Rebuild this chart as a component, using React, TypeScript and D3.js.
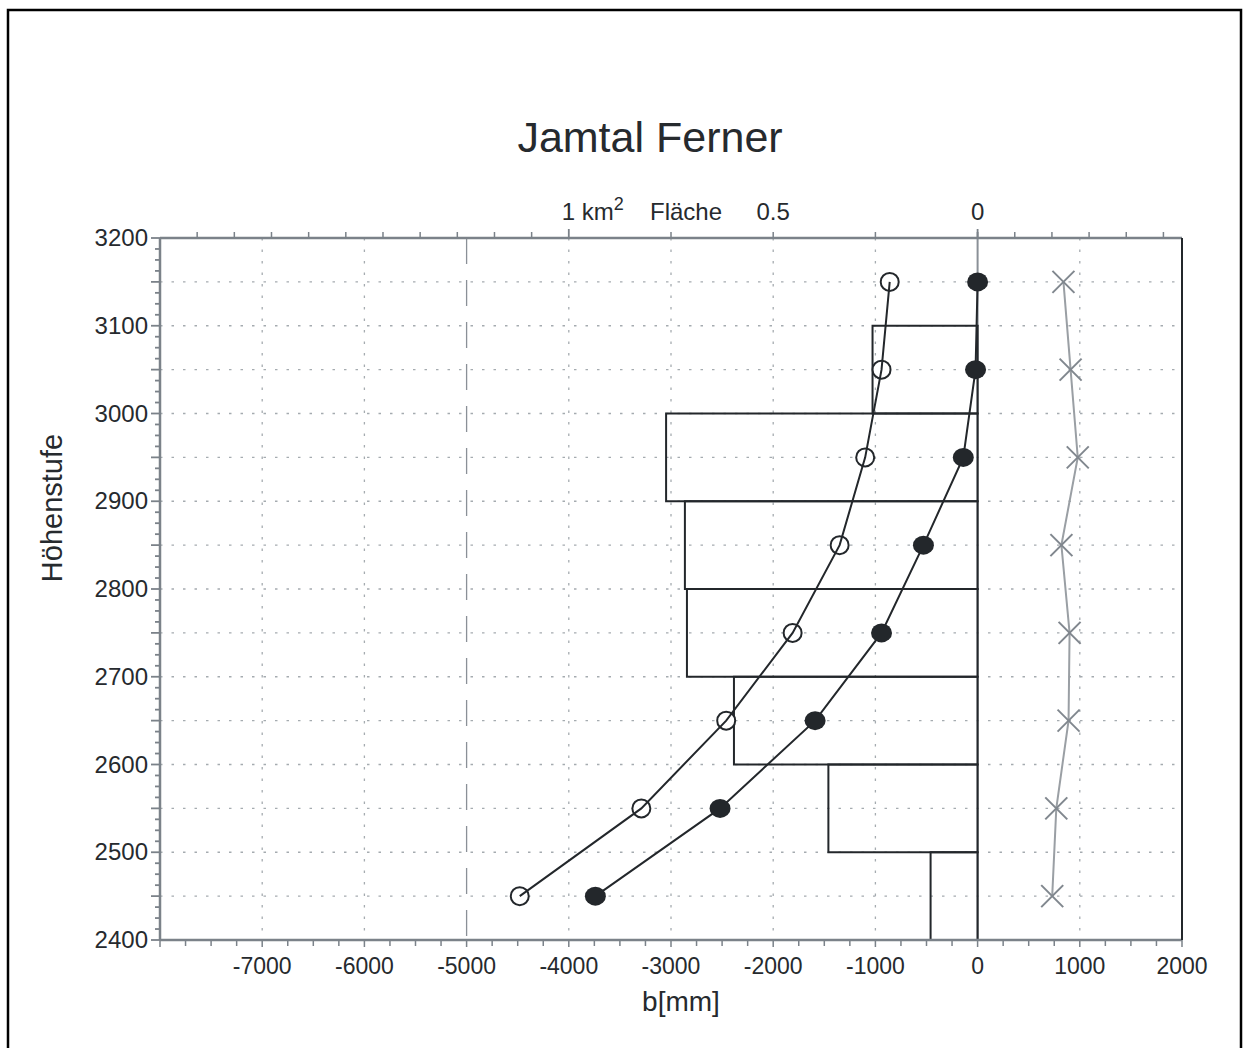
import React from 'react';
import * as d3 from 'd3';

const width = 1244;
const height = 1048;

// Höhenstufen (Mitte der 100 m Stufe) und Massenbilanz b[mm]
const heights = [3150, 3050, 2950, 2850, 2750, 2650, 2550, 2450];
const bOpen = [-860, -940, -1100, -1350, -1810, -2460, -3290, -4480];
const bFilled = [0, -20, -140, -530, -940, -1590, -2520, -3740];
const bCross = [840, 910, 980, 820, 900, 890, 770, 730];

// Fläche je Höhenstufe in km2 (Untergrenze der Stufe)
const bandLower = [3000, 2900, 2800, 2700, 2600, 2500, 2400];
const bandArea = [0.257, 0.762, 0.716, 0.711, 0.596, 0.365, 0.115];

const xTicks = [-7000, -6000, -5000, -4000, -3000, -2000, -1000, 0, 1000, 2000];
const yTicks = [2400, 2500, 2600, 2700, 2800, 2900, 3000, 3100, 3200];
const areaLabels = [{ v: 0.5, t: '0.5' }, { v: 0, t: '0' }];

const left = 160;
const right = 1182;
const top = 238;
const bottom = 940;

const axisCol = '#7b8289';
const textCol = '#262a2e';
const font = 'Liberation Sans, Arial, sans-serif';

const App = () => {
  const x = d3.scaleLinear().domain([-8000, 2000]).range([left, right]);
  const y = d3.scaleLinear().domain([2400, 3200]).range([bottom, top]);
  // 1 km2 Fläche entspricht 4000 mm auf der b-Achse
  const area = d3.scaleLinear().domain([0, 1]).range([x(0), x(-4000)]);

  const line = d3.line<[number, number]>()
    .x(d => x(d[0]))
    .y(d => y(d[1]));

  const openPts = heights.map((h, i) => [bOpen[i], h] as [number, number]);
  const filledPts = heights.map((h, i) => [bFilled[i], h] as [number, number]);
  const crossPts = heights.map((h, i) => [bCross[i], h] as [number, number]);

  const gridY = d3.range(2450, 3200, 50);
  const gridX = xTicks.filter(v => v !== -5000 && v !== 0 && v !== 2000);
  const minorX = d3.range(-8000, 2001, 250);
  const minorY = d3.range(2400, 3200.1, 12.5);
  const topTicks = [
    ...d3.range(1, 11).map(k => 1 + k / 11),
    0.25, 0.5, 0.75,
    ...d3.range(1, 6).map(k => -k / 11),
  ];

  return (
    <svg width={width} height={height} style={{ position: 'absolute', left: 0, top: 0, background: '#fff' }}>
      <rect x={8} y={10} width={1233} height={1100} fill="none" stroke="#000" strokeWidth={2.5} />

      <text x={650} y={152} textAnchor="middle" fontFamily={font} fontSize={43} fill={textCol}>
        Jamtal Ferner
      </text>

      {/* grid */}
      {gridY.map(v => (
        <line key={'gy' + v} x1={left} x2={right} y1={y(v)} y2={y(v)} stroke="#a5abb0" strokeWidth={1.3} strokeDasharray="2.5,9" />
      ))}
      {gridX.map(v => (
        <line key={'gx' + v} x1={x(v)} x2={x(v)} y1={top} y2={bottom} stroke="#a5abb0" strokeWidth={1.3} strokeDasharray="2.5,9" />
      ))}
      <line x1={x(-5000)} x2={x(-5000)} y1={top} y2={bottom} stroke="#8a9097" strokeWidth={1.3} strokeDasharray="26,16" />
      <line x1={x(0)} x2={x(0)} y1={top - 6} y2={bottom} stroke="#8a9097" strokeWidth={2} />

      {/* Flächen je Höhenstufe */}
      {bandLower.map((h, i) => (
        <rect key={'b' + h} x={area(bandArea[i])} y={y(h + 100)} width={x(0) - area(bandArea[i])} height={y(h) - y(h + 100)}
          fill="none" stroke="#23272b" strokeWidth={2} />
      ))}

      {/* axes */}
      <line x1={left} x2={right} y1={bottom} y2={bottom} stroke={axisCol} strokeWidth={2.5} />
      <line x1={left} x2={right} y1={top} y2={top} stroke={axisCol} strokeWidth={2.5} />
      <line x1={left} x2={left} y1={top} y2={bottom} stroke={axisCol} strokeWidth={2.5} />
      <line x1={right} x2={right} y1={top} y2={bottom} stroke="#23272b" strokeWidth={2} />

      {minorX.map(v => (
        <line key={'mx' + v} x1={x(v)} x2={x(v)} y1={bottom} y2={bottom + (v % 1000 === 0 ? 7 : 6)} stroke={axisCol} strokeWidth={1.5} />
      ))}
      {minorY.map(v => (
        <line key={'my' + v} x1={left - (v % 50 === 0 ? 9 : 5)} x2={left} y1={y(v)} y2={y(v)} stroke={axisCol} strokeWidth={1.8} />
      ))}
      {topTicks.map((v, i) => (
        <line key={'tt' + i} x1={area(v)} x2={area(v)} y1={top} y2={top - 6} stroke={axisCol} strokeWidth={1.5} />
      ))}
      <line x1={area(1)} x2={area(1)} y1={top} y2={top - 9} stroke={axisCol} strokeWidth={1.8} />
      <line x1={area(0)} x2={area(0)} y1={top} y2={top - 9} stroke={axisCol} strokeWidth={1.8} />

      {xTicks.map(v => (
        <text key={'xl' + v} x={x(v)} y={bottom + 34} textAnchor="middle" fontFamily={font} fontSize={23} fill={textCol}>
          {v}
        </text>
      ))}
      {yTicks.map(v => (
        <text key={'yl' + v} x={left - 12} y={y(v) + 8} textAnchor="end" fontFamily={font} fontSize={24} fill={textCol}>
          {v}
        </text>
      ))}
      {areaLabels.map(a => (
        <text key={'al' + a.v} x={area(a.v)} y={220} textAnchor="middle" fontFamily={font} fontSize={24} fill={textCol}>
          {a.t}
        </text>
      ))}
      <text x={area(1) - 7} y={220} fontFamily={font} fontSize={24} fill={textCol}>
        1 km<tspan dy={-10} fontSize={18}>2</tspan>
      </text>
      <text x={650} y={220} fontFamily={font} fontSize={24} fill={textCol}>Fläche</text>

      <text x={681} y={1011} textAnchor="middle" fontFamily={font} fontSize={28} fill={textCol}>b[mm]</text>
      <text transform={`translate(62,508) rotate(-90)`} textAnchor="middle" fontFamily={font} fontSize={29} fill={textCol}>
        Höhenstufe
      </text>

      {/* Kreuze */}
      <path d={line(crossPts) ?? ''} fill="none" stroke="#9a9fa4" strokeWidth={2} />
      {crossPts.map((p, i) => {
        const cx = x(p[0]);
        const cy = y(p[1]);
        const s = 11;
        return (
          <g key={'c' + i} stroke="#80878e" strokeWidth={2}>
            <line x1={cx - s} x2={cx + s} y1={cy - s} y2={cy + s} />
            <line x1={cx - s} x2={cx + s} y1={cy + s} y2={cy - s} />
          </g>
        );
      })}

      {/* offene Kreise */}
      {openPts.map((p, i) => (
        <circle key={'o' + i} cx={x(p[0])} cy={y(p[1])} r={9} fill="#fff" stroke="#23272b" strokeWidth={2} />
      ))}
      <path d={line(openPts) ?? ''} fill="none" stroke="#23272b" strokeWidth={2} />

      {/* volle Kreise */}
      <path d={line(filledPts) ?? ''} fill="none" stroke="#23272b" strokeWidth={2} />
      {filledPts.map((p, i) => (
        <ellipse key={'f' + i} cx={x(p[0])} cy={y(p[1])} rx={10.5} ry={9.5} fill="#23272b" />
      ))}
    </svg>
  );
};

export default App;
